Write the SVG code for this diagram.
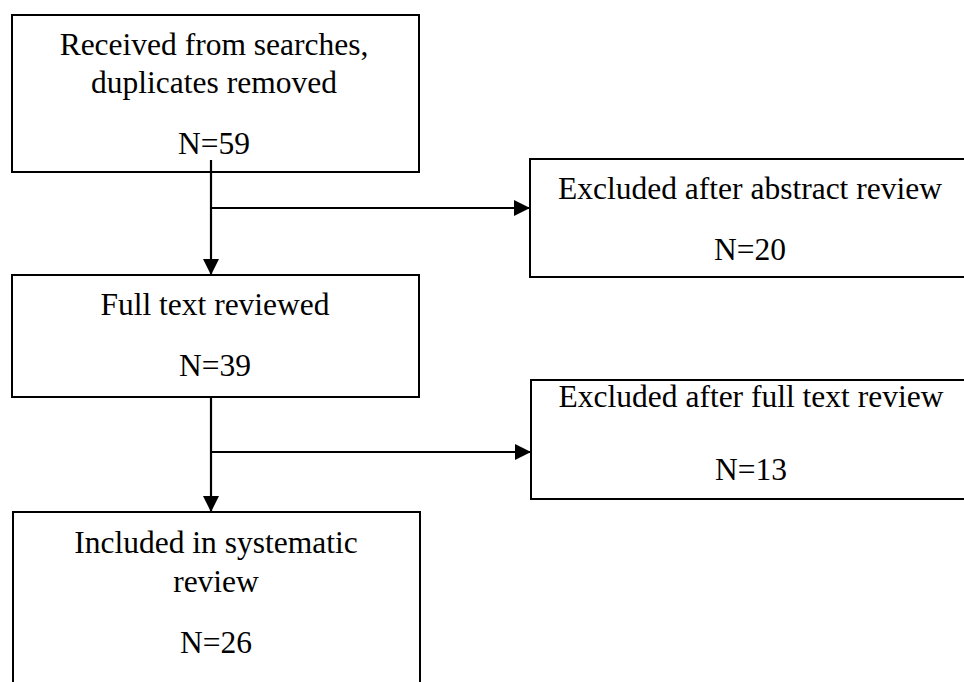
<svg xmlns="http://www.w3.org/2000/svg" width="964" height="682" viewBox="0 0 964 682">
<style>
.box{fill:#fff;stroke:#000;stroke-width:2}
.t{font-family:"Liberation Serif","Times New Roman",serif;font-size:31.5px;fill:#000;text-anchor:middle}
.c{fill:none;stroke:#000;stroke-width:2.2}
</style>
<defs>
<marker id="ah" markerWidth="16" markerHeight="16" viewBox="0 0 16 16" refX="16" refY="8" orient="auto" markerUnits="userSpaceOnUse">
<path d="M0,0 L16,8 L0,16 Z" fill="#000"/>
</marker>
</defs>
<g id="n1">
<rect class="box" x="12" y="15" width="407" height="157"/>
<text class="t" x="214" y="55">Received from searches,</text>
<text class="t" x="214" y="93">duplicates removed</text>
<text class="t" x="214" y="154">N=59</text>
</g>
<g id="n2">
<rect class="box" x="530" y="159" width="440" height="118"/>
<text class="t" x="750" y="199">Excluded after abstract review</text>
<text class="t" x="750" y="260">N=20</text>
</g>
<g id="n3">
<rect class="box" x="12" y="275" width="407" height="122"/>
<text class="t" x="215" y="315">Full text reviewed</text>
<text class="t" x="215" y="376">N=39</text>
</g>
<g id="n4">
<rect class="box" x="531" y="380" width="440" height="119"/>
<text class="t" x="751" y="407">Excluded after full text review</text>
<text class="t" x="751" y="480">N=13</text>
</g>
<g id="n5">
<rect class="box" x="13" y="512" width="407" height="190"/>
<text class="t" x="216" y="553">Included in systematic</text>
<text class="t" x="216" y="592">review</text>
<text class="t" x="216" y="653">N=26</text>
</g>
<g id="connectors">
<line class="c" x1="211" y1="160" x2="211" y2="275" marker-end="url(#ah)"/>
<line class="c" x1="211" y1="208" x2="530" y2="208" marker-end="url(#ah)"/>
<line class="c" x1="211" y1="397" x2="211" y2="512" marker-end="url(#ah)"/>
<line class="c" x1="211" y1="452" x2="531" y2="452" marker-end="url(#ah)"/>
</g>
</svg>
